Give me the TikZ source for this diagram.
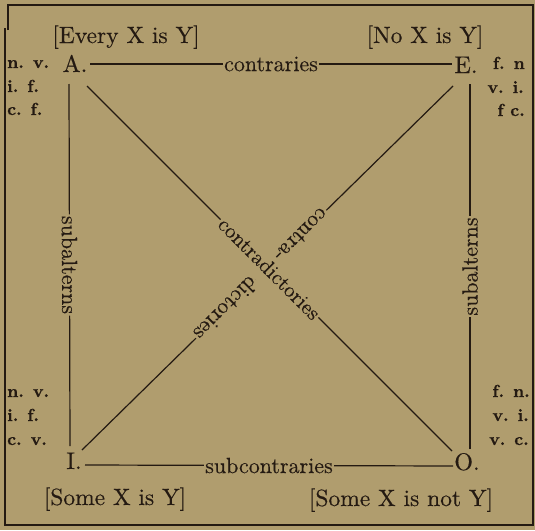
\documentclass[tikz,border=0pt]{standalone}
\usepackage{fontspec}
\newfontfamily\bracketfont{lmroman10-regular.otf}[FakeBold=0.3]
\newfontfamily\labelfont{lmroman10-regular.otf}[FakeBold=0.3]
\newfontfamily\letterfont{lmroman10-regular.otf}[FakeBold=0.4]
\newfontfamily\sidefont{lmroman10-bold.otf}[FakeBold=0.6]
\definecolor{paper}{RGB}{176,157,110}
\definecolor{ink}{RGB}{36,26,18}
\begin{document}
\begin{tikzpicture}[x=1pt,y=-1pt,
  every node/.style={text=ink},
  conn/.style={draw=ink, line width=1.2pt},
  letter/.style={font=\letterfont\fontsize{24}{28}\selectfont, inner sep=0pt, anchor=base},
  bracket/.style={font=\bracketfont\fontsize{23.5}{28}\selectfont, inner sep=0pt, anchor=base},
  lbl/.style={font=\labelfont\fontsize{22}{26}\selectfont, fill=paper, inner sep=1.5pt},
  sidel/.style={font=\sidefont\fontsize{17.5}{22}\selectfont, inner sep=0pt, anchor=base west},
  sider/.style={font=\sidefont\fontsize{17.5}{22}\selectfont, inner sep=0pt, anchor=base east},
  frame/.style={draw=ink, line width=1.6pt}]
\fill[paper] (0,0) rectangle (535,530);
\useasboundingbox (0,0) rectangle (535,530);
% frame
\draw[frame] (8,30) -- (8,5) -- (533,5) -- (533,525) -- (5,525) -- (5,28);
% corner letters
\node[letter] (A) at (75,72) {A.};
\node[letter] (E) at (466,73) {E.};
\node[letter] (I) at (74,469) {I.};
\node[letter] (O) at (467,470) {O.};
% bracketed propositions
\node[bracket] (tA) at (126,43) {[Every X is Y]};
\node[bracket] (tE) at (425,43) {[No X is Y]};
\node[bracket] (tI) at (115,505) {[Some X is Y]};
\node[bracket] (tO) at (401,506) {[Some X is not Y]};
% side labels
\node[sidel] (a1) at (7,68) {n. v.};
\node[sidel] (a2) at (7,92) {i. f.};
\node[sidel] (a3) at (7,115) {c. f.};
\node[sider] (e1) at (525,69) {f. n};
\node[sider] (e2) at (524,93) {v. i.};
\node[sider] (e3) at (525,116) {f c.};
\node[sidel] (i1) at (7,397) {n. v.};
\node[sidel] (i2) at (7,421) {i. f.};
\node[sidel] (i3) at (7,445) {c. v.};
\node[sider] (o1) at (530,397) {f. n.};
\node[sider] (o2) at (529,421) {v. i.};
\node[sider] (o3) at (529,445) {v. c.};
% connector ends
\coordinate (A-r) at (90,64);  \coordinate (E-l) at (452,64);
\coordinate (A-b) at (69,84);  \coordinate (I-t) at (70,446);
\coordinate (E-b) at (470,84); \coordinate (O-t) at (470,449);
\coordinate (I-r) at (85,465); \coordinate (O-l) at (453,466);
\coordinate (A-d) at (87,86);  \coordinate (O-d) at (452,451);
\coordinate (E-d) at (453,86); \coordinate (I-d) at (82,450);
% connectors
\draw[conn] (A-r) -- node[lbl] {contraries} (E-l);
\draw[conn] (I-r) -- node[lbl] {subcontraries} (O-l);
\draw[conn] (A-b) -- node[lbl,sloped] {subalterns} (I-t);
\draw[conn] (O-t) -- node[lbl,sloped] {subalterns} (E-b);
\draw[conn] (E-d) -- coordinate[pos=0.41] (cA) coordinate[pos=0.612] (cB) (I-d);
\draw[conn] (A-d) -- node[lbl,sloped,inner ysep=10pt,font=\labelfont\fontsize{21}{25}\selectfont] {contradictories} (O-d);
\node[lbl,rotate=225] (ct) at (cA) {contra-};
\node[lbl,rotate=225] (dt) at (cB) {dictories};
\end{tikzpicture}
\end{document}
